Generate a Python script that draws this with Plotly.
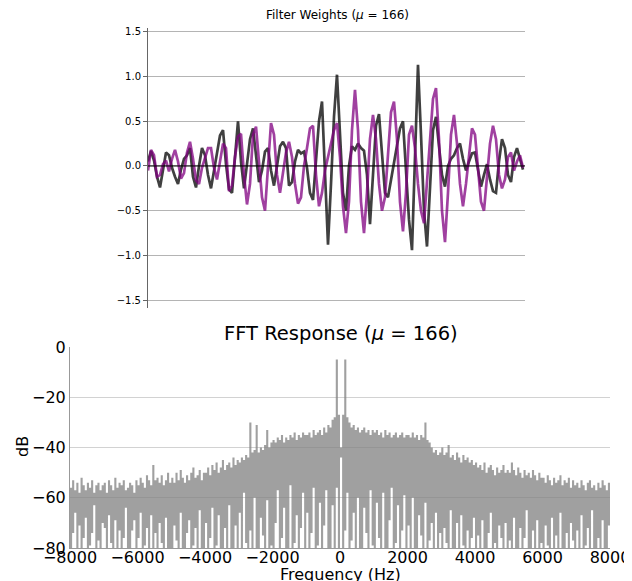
import numpy as np
import plotly.graph_objects as go

# ---------------- data ----------------
# Filter weights (sample index 0..125)
weights_gray = [0.05, 0.17, 0.06, -0.12, -0.24, -0.06, 0.15, 0.12, -0.02, -0.12,
                -0.2, -0.04, 0.08, 0.12, 0.2, -0.12, -0.24, 0.0, 0.2, 0.12,
                -0.1, -0.25, -0.05, 0.12, 0.34, 0.4, 0.02, -0.26, -0.3, 0.1,
                0.5, 0.05, -0.25, 0.02, 0.3, 0.42, 0.1, -0.18, -0.05, 0.16,
                0.2, -0.05, -0.22, 0.02, 0.22, 0.27, 0.2, -0.22, -0.18, 0.05,
                0.18, 0.14, 0.16, -0.02, -0.3, -0.38, 0.1, 0.5, 0.72, -0.12,
                -0.88, -0.2, 0.55, 1.02, 0.4, -0.3, -0.5, 0.0, 0.22, 0.18,
                0.25, 0.2, 0.17, -0.1, -0.65, -0.15, 0.45, 0.58, 0.1, -0.3,
                -0.35, -0.15, 0.0, 0.2, 0.42, 0.5, -0.1, -0.6, -0.94, 0.1,
                1.13, 0.35, -0.5, -0.9, -0.2, 0.4, 0.55, 0.2, -0.1, -0.23,
                0.0, 0.08, 0.12, 0.2, 0.25, 0.08, -0.05, 0.05, 0.14, 0.15,
                -0.05, -0.23, -0.1, 0.02, -0.15, -0.28, -0.3, 0.05, 0.3, 0.2,
                -0.1, -0.18, 0.1, 0.2, 0.08, -0.04]
weights_purple = [-0.05, 0.18, 0.12, -0.12, -0.1, 0.02, 0.06, -0.06, 0.08, 0.18,
                  0.05, -0.14, -0.08, 0.15, 0.27, 0.08, -0.16, -0.2, -0.02, 0.1,
                  0.2, 0.2, -0.02, -0.15, 0.05, 0.25, 0.2, -0.28, -0.22, 0.1,
                  0.33, 0.36, -0.1, -0.43, -0.2, 0.35, 0.44, 0.0, -0.35, -0.5,
                  0.0, 0.48, 0.35, -0.1, -0.3, -0.1, 0.15, 0.27, 0.1, -0.2,
                  -0.42, -0.35, 0.0, 0.2, 0.42, 0.45, -0.1, -0.45, -0.3, -0.05,
                  0.1, 0.25, 0.4, 0.48, 0.1, -0.45, -0.75, -0.4, 0.4, 0.85,
                  0.4, -0.4, -0.75, -0.3, 0.3, 0.57, 0.3, -0.2, -0.5, -0.35,
                  0.15, 0.6, 0.72, 0.3, -0.4, -0.73, -0.3, 0.35, 0.45, 0.2,
                  -0.2, -0.5, -0.64, -0.2, 0.35, 0.75, 0.87, 0.3, -0.5, -0.85,
                  -0.3, 0.35, 0.57, 0.25, -0.2, -0.45, -0.2, 0.15, 0.42, 0.35,
                  -0.05, -0.4, -0.5, -0.1, 0.25, 0.45, 0.3, -0.1, -0.25, -0.15,
                  0.1, 0.15, -0.05, 0.05, 0.12, -0.02]

# FFT response: 256 bins of 62.5 Hz from -8000 to 8000 Hz; top and bottom of each bin (dB)
fft_hi = [-56, -53, -57, -54, -58, -52, -55, -57, -54, -56, -53, -58, -55, -54, -57, -55,
          -54, -58, -53, -55, -57, -52, -56, -54, -55, -53, -57, -56, -54, -55, -58, -53,
          -55, -52, -54, -56, -51, -53, -55, -47, -53, -52, -54, -51, -55, -53, -50, -54,
          -52, -54, -50, -53, -49, -52, -54, -51, -53, -50, -48, -52, -51, -49, -53, -50,
          -50, -48, -51, -47, -49, -46, -50, -48, -45, -49, -47, -46, -48, -44, -47, -45,
          -46, -44, -45, -43, -44, -30, -42, -41, -31, -42, -40, -41, -39, -33, -40, -38,
          -37, -38, -36, -37, -35, -38, -36, -37, -35, -36, -34, -37, -35, -36, -34, -35,
          -35, -34, -36, -33, -35, -34, -33, -35, -32, -34, -31, -32, -29, -28, -5, -27,
          -40, -27, -5, -28, -30, -32, -31, -33, -32, -34, -33, -32, -34, -33, -35, -33,
          -34, -33, -35, -34, -36, -33, -35, -34, -36, -35, -34, -36, -35, -34, -36, -35,
          -35, -36, -34, -36, -35, -37, -35, -36, -30, -37, -38, -40, -42, -41, -43, -42,
          -40, -43, -42, -39, -44, -43, -45, -42, -44, -46, -43, -45, -44, -46, -45, -47,
          -46, -48, -47, -49, -46, -50, -48, -47, -49, -51, -48, -50, -49, -47, -50, -49,
          -50, -46, -49, -51, -48, -50, -52, -49, -51, -50, -52, -49, -51, -53, -50, -52,
          -52, -54, -51, -53, -55, -52, -54, -53, -51, -55, -53, -54, -52, -56, -53, -55,
          -54, -56, -53, -55, -57, -54, -53, -56, -55, -57, -54, -56, -53, -55, -57, -54]
fft_lo = [-85, -74, -66, -82, -71, -85, -76, -68, -85, -79, -74, -63, -85, -77, -85, -70,
          -72, -85, -67, -78, -85, -69, -80, -73, -85, -76, -64, -85, -81, -73, -69, -85,
          -76, -66, -85, -79, -72, -85, -67, -83, -74, -85, -70, -78, -85, -68, -80, -85,
          -85, -71, -77, -85, -66, -81, -85, -74, -69, -85, -79, -72, -85, -65, -83, -85,
          -70, -85, -76, -64, -85, -79, -67, -85, -82, -72, -85, -63, -80, -85, -71, -85,
          -66, -85, -58, -78, -85, -73, -85, -60, -82, -85, -68, -75, -85, -61, -85, -79,
          -85, -70, -57, -85, -76, -64, -85, -81, -55, -85, -78, -67, -85, -72, -58, -85,
          -66, -85, -74, -56, -85, -79, -62, -85, -71, -57, -85, -80, -63, -85, -56, -85,
          -44, -85, -73, -58, -85, -77, -66, -85, -60, -81, -85, -64, -74, -85, -57, -79,
          -85, -62, -76, -85, -58, -82, -85, -69, -56, -85, -78, -63, -85, -73, -59, -85,
          -71, -85, -60, -80, -85, -67, -75, -85, -62, -85, -77, -70, -85, -66, -85, -74,
          -85, -72, -78, -85, -65, -83, -85, -70, -85, -67, -79, -85, -73, -85, -76, -68,
          -85, -75, -85, -69, -80, -85, -74, -66, -85, -78, -85, -71, -76, -85, -70, -85,
          -77, -85, -68, -81, -85, -72, -85, -76, -65, -85, -80, -73, -85, -69, -85, -78,
          -85, -71, -79, -85, -68, -85, -75, -85, -66, -82, -85, -74, -85, -70, -77, -85,
          -73, -85, -67, -85, -79, -72, -85, -65, -83, -85, -76, -85, -69, -80, -85, -71]

weight_ticks = [-1.5, -1.0, -0.5, 0.0, 0.5, 1.0, 1.5]
freq_ticks = [-8000, -6000, -4000, -2000, 0, 2000, 4000, 6000, 8000]
db_ticks = [-80, -60, -40, -20, 0]
MU = 166

# ---------------- figure ----------------
# The page body has an 8px margin, so the figure is drawn 8px in from the
# window's top-left corner; positions below are given in window pixels.
OFF = 8
W, H = 632 - OFF, 581 - OFF
FONT = "DejaVu Sans"
n_w = len(weights_gray)
samples = np.arange(n_w)

# bin edges for the FFT polygon (union of per-bin [lo, hi] spans)
n_bins = len(fft_hi)
edges = np.linspace(-8000, 8000, n_bins + 1)
px, py = [], []
for i in range(n_bins):
    px += [edges[i], edges[i + 1]]
    py += [fft_hi[i], fft_hi[i]]
for i in reversed(range(n_bins)):
    px += [edges[i + 1], edges[i]]
    py += [fft_lo[i], fft_lo[i]]

fig = go.Figure()
fig.add_trace(go.Scatter(x=samples, y=weights_gray, mode="lines",
                         line=dict(color="rgba(0,0,0,0.75)", width=2.7),
                         xaxis="x", yaxis="y", showlegend=False))
fig.add_trace(go.Scatter(x=samples, y=weights_purple, mode="lines",
                         line=dict(color="rgba(128,0,128,0.75)", width=2.7),
                         xaxis="x", yaxis="y", showlegend=False))
fig.add_trace(go.Scatter(x=px, y=py, mode="lines", fill="toself",
                         fillcolor="rgba(128,128,128,0.75)",
                         line=dict(width=0, color="rgba(0,0,0,0)"),
                         xaxis="x2", yaxis="y2", showlegend=False))

def px2paper_x(p):
    return (p - OFF) / W

def px2paper_y(p):
    return 1 - (p - OFF) / H

fig.update_layout(
    width=W, height=H, autosize=False,
    margin=dict(l=0, r=0, t=0, b=0, autoexpand=False),
    paper_bgcolor="white", plot_bgcolor="white",
    font=dict(family=FONT, color="black"),
    xaxis=dict(domain=[px2paper_x(148), px2paper_x(525)], range=[0, 125.67],
               showgrid=False, zeroline=False, showline=False, automargin=False,
               showticklabels=False, ticks="", anchor="y"),
    yaxis=dict(domain=[px2paper_y(308), px2paper_y(28)], range=[-1.587, 1.542],
               tickvals=weight_ticks, tickformat=".1f", automargin=False,
               tickfont=dict(size=10, family=FONT, color="black"),
               showgrid=True, gridcolor="#b4b4b4", gridwidth=1,
               zeroline=False, showline=True, linecolor="#666666", linewidth=1,
               ticks="outside", ticklen=4, tickcolor="#666666", anchor="x"),
    xaxis2=dict(domain=[px2paper_x(70), px2paper_x(610)], range=[-8000, 8000],
                tickvals=freq_ticks, tickfont=dict(size=16, family=FONT, color="black"),
                showgrid=False, zeroline=False, showline=True, linecolor="#999999",
                ticks="", anchor="y2", automargin=False, ticklabelstandoff=-5),
    yaxis2=dict(domain=[px2paper_y(548), px2paper_y(347)], range=[-80, 0],
                tickvals=db_ticks, tickfont=dict(size=16, family=FONT, color="black"),
                showgrid=True, gridcolor="#d2d2d2", gridwidth=1,
                zeroline=False, showline=True, linecolor="#999999",
                ticks="", anchor="x2", automargin=False),
    shapes=[dict(type="line", xref="x domain", yref="y", x0=0, x1=1, y0=0, y1=0,
                 line=dict(color="black", width=1.2), layer="above")],
    annotations=[
        dict(text=f"Filter Weights (<i>μ</i> = {MU})", xref="paper", yref="paper",
             x=px2paper_x(337), y=px2paper_y(15), showarrow=False,
             font=dict(size=12, family=FONT), xanchor="center", yanchor="middle"),
        dict(text=f"FFT Response (<i>μ</i> = {MU})", xref="paper", yref="paper",
             x=px2paper_x(341), y=px2paper_y(333), showarrow=False,
             font=dict(size=19.5, family=FONT), xanchor="center", yanchor="middle"),
        dict(text="Frequency (Hz)", xref="paper", yref="paper",
             x=px2paper_x(340), y=px2paper_y(574), showarrow=False,
             font=dict(size=16, family=FONT), xanchor="center", yanchor="middle"),
        dict(text="dB", xref="paper", yref="paper", textangle=-90,
             x=px2paper_x(22), y=px2paper_y(447), showarrow=False,
             font=dict(size=16, family=FONT), xanchor="center", yanchor="middle"),
    ],
)

fig.write_html("out.html")
